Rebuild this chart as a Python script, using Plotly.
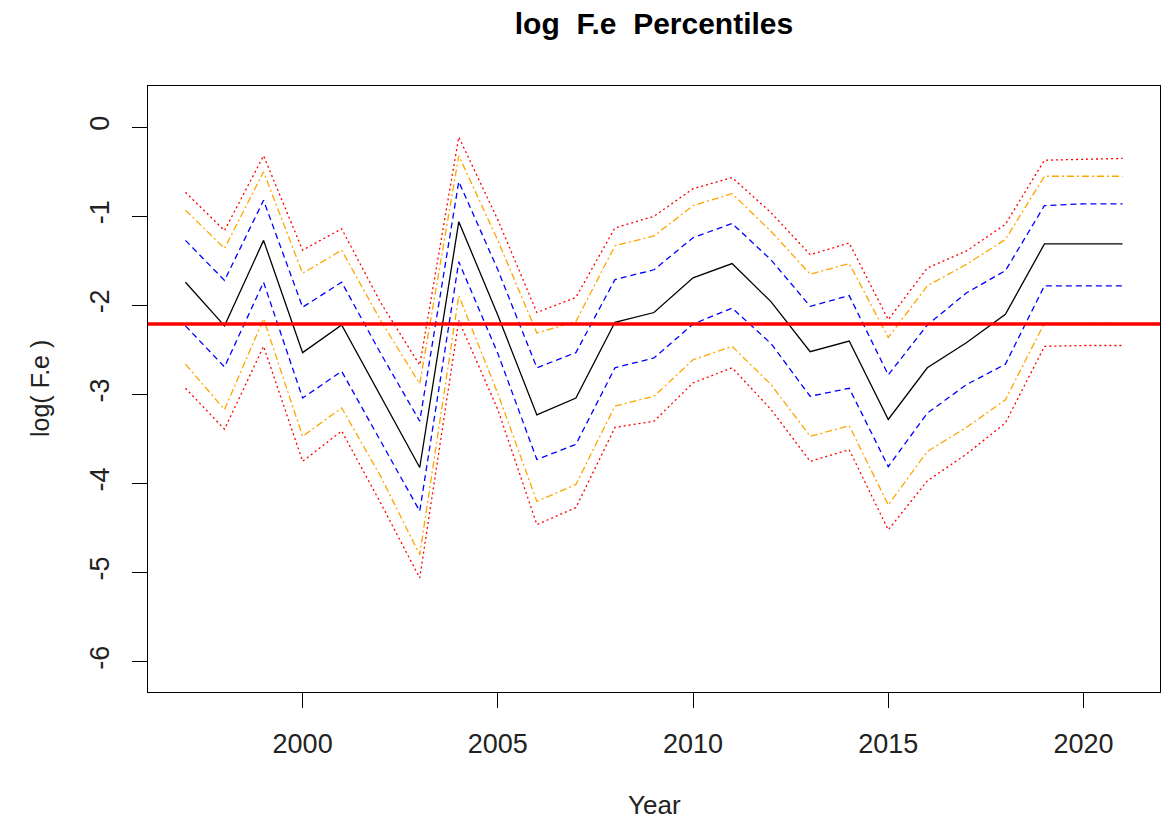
import plotly.graph_objects as go

years = list(range(1997, 2022))

median = [-1.74, -2.23, -1.27, -2.53, -2.22, -3.02, -3.82, -1.06, -2.11, -3.23,
          -3.04, -2.19, -2.08, -1.69, -1.53, -1.96, -2.52, -2.40, -3.28, -2.70,
          -2.42, -2.10, -1.31, -1.31, -1.31]

p75 = [-1.27, -1.72, -0.82, -2.02, -1.74, -2.54, -3.30, -0.61, -1.60, -2.70,
       -2.53, -1.71, -1.60, -1.24, -1.08, -1.49, -2.01, -1.89, -2.78, -2.22,
       -1.86, -1.61, -0.88, -0.86, -0.86]
p25 = [-2.23, -2.69, -1.74, -3.04, -2.74, -3.53, -4.31, -1.51, -2.54, -3.73,
       -3.56, -2.70, -2.59, -2.21, -2.03, -2.43, -3.02, -2.93, -3.81, -3.21,
       -2.89, -2.66, -1.78, -1.78, -1.78]

p90 = [-0.93, -1.36, -0.50, -1.64, -1.38, -2.17, -2.88, -0.32, -1.27, -2.31,
       -2.18, -1.33, -1.22, -0.88, -0.745, -1.17, -1.65, -1.53, -2.36, -1.78,
       -1.54, -1.26, -0.55, -0.55, -0.55]
p10 = [-2.66, -3.17, -2.15, -3.47, -3.15, -3.92, -4.80, -1.89, -2.99, -4.20,
       -4.01, -3.13, -3.02, -2.61, -2.46, -2.89, -3.47, -3.35, -4.24, -3.64,
       -3.37, -3.06, -2.20, -2.20, -2.20]

p975 = [-0.73, -1.16, -0.32, -1.38, -1.14, -1.97, -2.67, -0.11, -1.04, -2.08,
        -1.91, -1.13, -1.00, -0.69, -0.565, -0.96, -1.43, -1.30, -2.16, -1.58,
        -1.39, -1.09, -0.37, -0.36, -0.35]
p025 = [-2.93, -3.39, -2.46, -3.75, -3.41, -4.22, -5.06, -2.17, -3.17, -4.46,
        -4.27, -3.37, -3.30, -2.87, -2.70, -3.17, -3.75, -3.62, -4.52, -3.97,
        -3.67, -3.32, -2.46, -2.45, -2.45]

ref_level = -2.21

x_ticks = [2000, 2005, 2010, 2015, 2020]
y_ticks = [0, -1, -2, -3, -4, -5, -6]

FONT = "Liberation Sans, Arial, sans-serif"

W, H = 1161, 812
ML, MR, MT, MB = 140, 9, 78, 128
PW, PH = W - ML - MR, H - MT - MB

fig = go.Figure()

series = [
    (p975, "red", "2px,3px"),
    (p025, "red", "2px,3px"),
    (p90, "orange", "7px,3px,2px,3px"),
    (p10, "orange", "7px,3px,2px,3px"),
    (p75, "blue", "6px,4px"),
    (p25, "blue", "6px,4px"),
    (median, "black", "solid"),
]
for vals, col, dash in series:
    fig.add_trace(go.Scatter(x=years, y=vals, mode="lines",
                             line=dict(color=col, width=1.3, dash=dash),
                             hoverinfo="skip"))

fig.add_hline(y=ref_level, line=dict(color="red", width=3.5))

fig.update_layout(
    width=W, height=H,
    margin=dict(l=ML, r=MR, t=MT, b=MB),
    paper_bgcolor="white", plot_bgcolor="white",
    showlegend=False,
    font=dict(family=FONT, size=27, color="black"),
    title=dict(text="<b>log  F.e  Percentiles</b>", x=0.5, xref="paper",
               xanchor="center", y=1.0 - 5 / H, yref="container",
               yanchor="top", font=dict(family=FONT, size=30, color="black")),
)

fig.update_xaxes(
    range=[1996.04, 2021.96], tickvals=x_ticks, ticktext=[str(t) for t in x_ticks],
    showgrid=False, zeroline=False, showline=True, mirror=True,
    linecolor="black", linewidth=1.3, automargin=False,
    ticks="outside", ticklen=15, tickwidth=1.3, tickcolor="black",
    ticklabelstandoff=12,
    tickfont=dict(family=FONT, size=27, color="#222"),
)
fig.update_yaxes(
    range=[-6.34, 0.463], tickvals=y_ticks, ticktext=[str(t) for t in y_ticks],
    showgrid=False, zeroline=False, showline=True, mirror=True,
    linecolor="black", linewidth=1.3, automargin=False,
    ticks="outside", ticklen=15, tickwidth=1.3, tickcolor="black",
    tickangle=-90, ticklabelstandoff=12,
    tickfont=dict(family=FONT, size=27, color="#222"),
)

fig.add_annotation(text="Year", xref="paper", yref="paper",
                   x=0.5, y=-113 / PH, xanchor="center", yanchor="middle",
                   showarrow=False, font=dict(family=FONT, size=26, color="#222"))
fig.add_annotation(text="log( F.e )", xref="paper", yref="paper",
                   x=-108 / PW, y=0.5, xanchor="center", yanchor="middle",
                   textangle=-90, showarrow=False,
                   font=dict(family=FONT, size=25, color="#222"))

fig.write_html("out.html")
